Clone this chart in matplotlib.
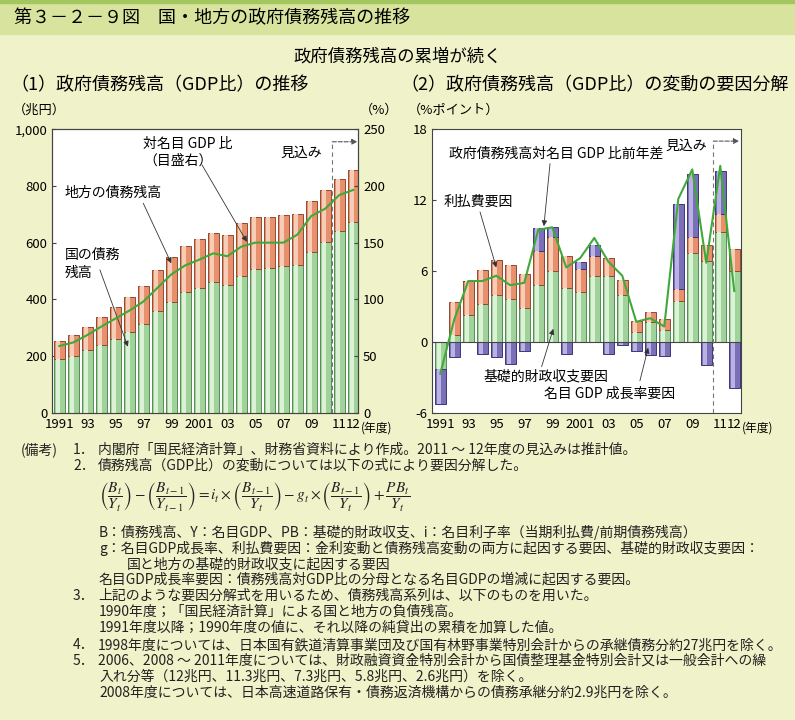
import numpy as np
import matplotlib
matplotlib.use("Agg")
import matplotlib.pyplot as plt
from matplotlib.patches import Rectangle

plt.rcParams['font.family'] = ['Noto Sans CJK JP', 'DejaVu Sans']
plt.rcParams['mathtext.fontset'] = 'stix'
plt.rcParams['axes.unicode_minus'] = False

W, H = 795, 720
BG = '#f0f3c9'

# --- data -------------------------------------------------------------
years = list(range(1991, 2013))
tick_pos = [0, 2, 4, 6, 8, 10, 12, 14, 16, 18, 20, 21]
tick_labels = ['1991', '93', '95', '97', '99', '2001', '03', '05', '07', '09', '11', '12']

# (1) debt outstanding, trillion yen
national_debt = [189, 201, 221, 239, 260, 284, 312, 358, 389, 425, 441,
                 460, 449, 484, 506, 509, 516, 522, 566, 604, 640, 674]
local_debt = [64, 73, 83, 97, 114, 124, 136, 146, 159, 163, 172,
              175, 179, 184, 183, 183, 183, 179, 180, 182, 184, 181]
gdp_ratio = [58.8, 62, 68.5, 76, 83, 90, 98, 110, 122, 130, 135,
             140.6, 138, 146.5, 150, 150, 150, 157, 173.5, 180, 192, 196.5]

# (2) factor decomposition, % points
pb_factor = [-2.27, 0.62, 2.27, 3.2, 3.94, 3.6, 2.9, 4.8, 6.0, 4.6, 4.2,
             5.6, 5.6, 3.97, 0.82, 1.64, 1.0, 3.46, 7.56, 6.86, 9.3, 6.03]
interest_factor = [0, 2.75, 2.88, 2.9, 2.96, 2.9, 2.88, 2.9, 2.9, 2.7, 2.0,
                   1.7, 1.5, 1.23, 0.96, 0.91, 0.93, 1.04, 1.34, 1.33, 1.5, 1.82]
growth_factor = [-3.03, -1.3, 0, -1.0, -1.3, -1.84, -0.8, 1.9, 0.8, -1.05, 0.57,
                 0.9, -1.0, -0.3, -0.76, -1.13, -1.19, 7.2, 5.35, -1.98, 3.65, -3.94]
ratio_change = [-2.7, 1.9, 5.15, 5.15, 5.6, 4.8, 5.0, 9.5, 9.7, 6.3, 7.1,
                8.8, 6.8, 5.6, 1.7, 2.0, 1.3, 12.1, 14.6, 6.7, 14.9, 4.3]

GREEN = ('#9fd39a', '#dcf2d6', '#5a8a58')
ORANGE = ('#e8906c', '#f8cdb7', '#8c4b33')
PURPLE = ('#7a70b8', '#b9b2e2', '#3d3675')
LINE = '#3fa93a'
BW = 0.78


def fx(x):
    return x / W


def fy(y):
    return 1 - y / H


def shaded_bar(ax, x, h, bottom, cols):
    base, light, edge = cols
    ax.bar(x, h, BW, bottom=bottom, color=base, edgecolor=edge, linewidth=0.7, zorder=2)
    ax.bar(np.asarray(x) - 0.08, h, BW * 0.42, bottom=bottom, color=light,
           linewidth=0, zorder=3)


def arrow(ax, start, end):
    ax.annotate('', xy=end, xytext=start,
                arrowprops=dict(arrowstyle='-|>', color='#333333', lw=0.6,
                                mutation_scale=8, shrinkA=0, shrinkB=0), zorder=6)


def style_axes(ax):
    ax.set_facecolor('white')
    for s in ax.spines.values():
        s.set_color('#444444')
        s.set_linewidth(0.8)
    ax.set_xticks(tick_pos)
    ax.set_xticklabels(tick_labels)
    ax.tick_params(axis='x', length=0, pad=4, labelsize=9.5)
    ax.tick_params(axis='y', direction='in', length=3, labelsize=9.5, color='#444444')


fig = plt.figure(figsize=(W / 100, H / 100), dpi=100)
fig.patch.set_facecolor(BG)

# header band
fig.add_artist(Rectangle((0, fy(34)), 1, 34 / H, transform=fig.transFigure,
                         color='#d8e49e', zorder=0))
fig.add_artist(Rectangle((0, fy(3)), 1, 3 / H, transform=fig.transFigure,
                         color='#a3c75f', zorder=0))
fig.text(fx(14), fy(18), '第３－２－９図　国・地方の政府債務残高の推移',
         fontsize=13, va='center', ha='left')
fig.text(fx(398), fy(57), '政府債務残高の累増が続く', fontsize=12.5, va='center', ha='center')
fig.text(fx(10), fy(85), '（1）政府債務残高（GDP比）の推移', fontsize=13, va='center')
fig.text(fx(400), fy(85), '（2）政府債務残高（GDP比）の変動の要因分解', fontsize=13, va='center')

x = np.arange(len(years))

# --- panel 1 ----------------------------------------------------------
ax1 = fig.add_axes([fx(52.3), fy(412.7), fx(306), 283.4 / H])
style_axes(ax1)
shaded_bar(ax1, x, national_debt, 0, GREEN)
shaded_bar(ax1, x, local_debt, national_debt, ORANGE)
ax1.set_xlim(-0.5, 21.36)
ax1.set_ylim(0, 1000)
ax1.set_yticks([0, 200, 400, 600, 800, 1000])
ax1.set_yticklabels(['0', '200', '400', '600', '800', '1,000'])

ax1r = ax1.twinx()
ax1r.plot(x, gdp_ratio, color=LINE, lw=1.5, zorder=5)
ax1r.set_ylim(0, 250)
ax1r.set_yticks([0, 50, 100, 150, 200, 250])
ax1r.tick_params(axis='y', direction='in', length=3, labelsize=9.5, color='#444444')
for s in ax1r.spines.values():
    s.set_color('#444444')
    s.set_linewidth(0.8)

ax1.plot([19.5, 19.5], [0, 956], ls=(0, (4, 3)), color='#777777', lw=0.8, zorder=4)
ax1.annotate('', xy=(21.3, 956), xytext=(19.5, 956),
             arrowprops=dict(arrowstyle='-|>', color='#555555', lw=0.8, ls='--',
                             mutation_scale=8, shrinkA=0, shrinkB=0))
ax1.text(17.3, 916, '見込み', fontsize=10, ha='center', va='center')
ax1.text(6.0, 918, '対名目 GDP 比\n（目盛右）', fontsize=10, ha='left', va='center',
         linespacing=1.2)
arrow(ax1, (10.2, 874), (13.4, 603))
ax1.text(0.4, 774, '地方の債務残高', fontsize=10, ha='left', va='center')
arrow(ax1, (6.0, 739), (8.0, 527))
ax1.text(0.4, 525, '国の債務\n残高', fontsize=10, ha='left', va='center', linespacing=1.3)
arrow(ax1, (2.9, 504), (4.9, 233))

fig.text(fx(13), fy(110), '（兆円）', fontsize=9.5, va='center')
fig.text(fx(360), fy(110), '（%）', fontsize=9.5, va='center')
fig.text(fx(361), fy(428), '(年度)', fontsize=8.5, va='center')

# --- panel 2 ----------------------------------------------------------
ax2 = fig.add_axes([fx(432.3), fy(412.7), fx(308.4), 283.4 / H])
style_axes(ax2)
pos = np.zeros(len(x))
neg = np.zeros(len(x))
for vals, cols in [(pb_factor, GREEN), (interest_factor, ORANGE), (growth_factor, PURPLE)]:
    v = np.array(vals)
    bottom = np.where(v >= 0, pos, neg)
    shaded_bar(ax2, x, v, bottom, cols)
    pos += np.clip(v, 0, None)
    neg += np.clip(v, None, 0)
ax2.axhline(0, color='#444444', lw=0.8, zorder=4)
ax2.plot(x, ratio_change, color=LINE, lw=1.5, zorder=5)
ax2.set_xlim(-0.57, 21.46)
ax2.set_ylim(-6, 18)
ax2.set_yticks([-6, 0, 6, 12, 18])

ax2.plot([19.5, 19.5], [-6, 17.0], ls=(0, (4, 3)), color='#777777', lw=0.8, zorder=4)
ax2.annotate('', xy=(21.35, 17.0), xytext=(19.5, 17.0),
             arrowprops=dict(arrowstyle='-|>', color='#555555', lw=0.8, ls='--',
                             mutation_scale=8, shrinkA=0, shrinkB=0))
ax2.text(17.6, 16.6, '見込み', fontsize=10, ha='center', va='center')
ax2.text(8.25, 15.9, '政府債務残高対名目 GDP 比前年差', fontsize=10, ha='center', va='center')
arrow(ax2, (7.84, 15.1), (7.4, 9.8))
ax2.text(2.7, 11.85, '利払費要因', fontsize=10, ha='center', va='center')
arrow(ax2, (2.84, 11.0), (4.0, 6.3))
ax2.text(7.53, -2.9, '基礎的財政収支要因', fontsize=10, ha='center', va='center')
arrow(ax2, (7.24, -2.1), (8.07, 1.1))
ax2.text(12.1, -4.4, '名目 GDP 成長率要因', fontsize=10, ha='center', va='center')
arrow(ax2, (14.26, -3.3), (14.85, -0.5))

fig.text(fx(408), fy(110), '（%ポイント）', fontsize=9.5, va='center')
fig.text(fx(742), fy(428), '(年度)', fontsize=8.5, va='center')

# --- notes ------------------------------------------------------------
NS = 10
notes = [
    (20.7, 450, '(備考)'),
    (73, 450, '1．'), (98, 450, '内閣府「国民経済計算」、財務省資料により作成。2011 ～ 12年度の見込みは推計値。'),
    (73, 466, '2．'), (98, 466, '債務残高（GDP比）の変動については以下の式により要因分解した。'),
    (99, 532, 'B：債務残高、Y：名目GDP、PB：基礎的財政収支、i：名目利子率（当期利払費/前期債務残高）'),
    (99, 548, 'g：名目GDP成長率、利払費要因：金利変動と債務残高変動の両方に起因する要因、基礎的財政収支要因：'),
    (127, 564, '国と地方の基礎的財政収支に起因する要因'),
    (99, 580, '名目GDP成長率要因：債務残高対GDP比の分母となる名目GDPの増減に起因する要因。'),
    (73, 596, '3．'), (98, 596, '上記のような要因分解式を用いるため、債務残高系列は、以下のものを用いた。'),
    (99, 612, '1990年度；「国民経済計算」による国と地方の負債残高。'),
    (99, 628, '1991年度以降；1990年度の値に、それ以降の純貸出の累積を加算した値。'),
    (73, 645, '4．'), (98, 645, '1998年度については、日本国有鉄道清算事業団及び国有林野事業特別会計からの承継債務分約27兆円を除く。'),
    (73, 661, '5．'), (98, 661, '2006、2008 ～ 2011年度については、財政融資資金特別会計から国債整理基金特別会計又は一般会計への繰'),
    (99, 677, '入れ分等（12兆円、11.3兆円、7.3兆円、5.8兆円、2.6兆円）を除く。'),
    (99, 693, '2008年度については、日本高速道路保有・債務返済機構からの債務承継分約2.9兆円を除く。'),
]
for nx, ny, t in notes:
    fig.text(fx(nx), fy(ny), t, fontsize=NS, ha='left', va='center', color='#222222')

formula = (r'$\left(\dfrac{B_t}{Y_t}\right)-\left(\dfrac{B_{t-1}}{Y_{t-1}}\right)'
           r'=i_t\times\left(\dfrac{B_{t-1}}{Y_t}\right)-g_t\times\left(\dfrac{B_{t-1}}{Y_t}\right)'
           r'+\dfrac{PB_t}{Y_t}$')
fig.text(fx(99), fy(498), formula, fontsize=11, ha='left', va='center', color='#222222')

fig.savefig('out.png', dpi=100, facecolor=BG)
